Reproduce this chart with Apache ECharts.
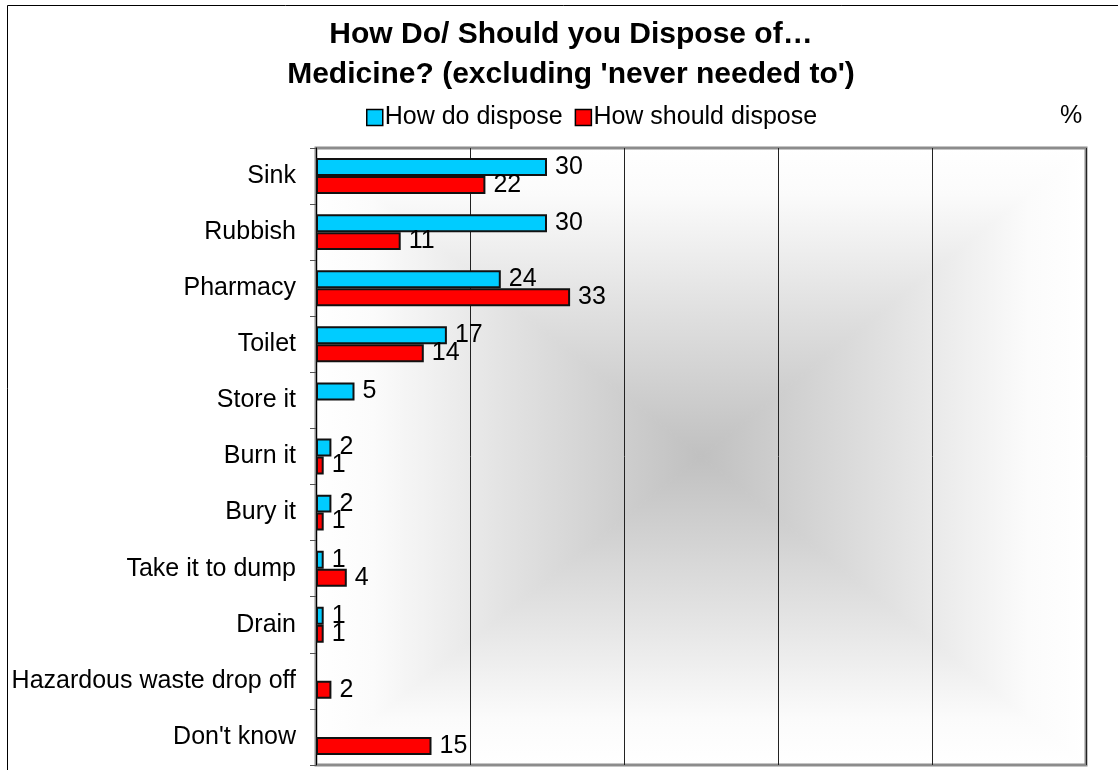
<!DOCTYPE html>
<html><head><meta charset="utf-8">
<script src="https://cdn.jsdelivr.net/npm/echarts@6/dist/echarts.min.js"></script>
<style>html,body{margin:0;padding:0;background:#fff}#c{width:1118px;height:770px}</style>
</head><body><div id="c"></div>
<script>
const categories = ["Sink","Rubbish","Pharmacy","Toilet","Store it","Burn it","Bury it","Take it to dump","Drain","Hazardous waste drop off","Don't know"];
const howDo = [30,30,24,17,5,2,2,1,1,null,null];
const howShould = [22,11,33,14,null,1,1,4,1,2,15];
const seriesNames = ["How do dispose","How should dispose"];
const titleText = "How Do/ Should you Dispose of…\nMedicine? (excluding 'never needed to')";

const FONT = "'Liberation Sans', Arial, sans-serif";
// plot-area layout (pixels)
const G = {left:316, top:148, right:1086, bottom:765};
const cx = (G.left + G.right) / 2, cy = (G.top + G.bottom) / 2;
const grad = (x, y, x2, y2) => ({type:'linear', x:x, y:y, x2:x2, y2:y2, colorStops:[
  {offset:0,color:'#ffffff'},{offset:0.15,color:'#fbfbfb'},{offset:0.5,color:'#e2e2e2'},{offset:1,color:'#c0c0c0'}]});
const bgTri = (pts, x, y, x2, y2) => ({type:'polygon', z:-1, silent:true,
  shape:{points:pts},
  style:{fill:grad(x,y,x2,y2), stroke:grad(x,y,x2,y2), lineWidth:1}});

const chart = echarts.init(document.getElementById('c'));
const labelCfg = {show:true, position:'right', distance:8, color:'#000', fontSize:25, fontFamily:FONT};
chart.setOption({
  animation:false,
  backgroundColor:'#fff',
  title:{text:titleText, left:566, textAlign:'center', top:10,
    textStyle:{fontFamily:FONT, fontSize:30, fontWeight:'bold', color:'#000', lineHeight:40}},
  legend:{left:361, top:100, itemWidth:16, itemHeight:16, itemGap:12, icon:'rect',
    itemStyle:{borderColor:'#000', borderWidth:1.5},
    textStyle:{fontFamily:FONT, fontSize:25, color:'#000', padding:[0,0,0,-3]},
    data:seriesNames},
  graphic:[
    {type:'rect', shape:{x:7.5,y:5.5,width:1300,height:1000}, style:{fill:null, stroke:'#000', lineWidth:1}, z:-10, silent:true},
    bgTri([[G.left,G.top],[G.right,G.top],[cx,cy]], 0,0,0,1),
    bgTri([[G.left,G.bottom],[G.right,G.bottom],[cx,cy]], 0,1,0,0),
    bgTri([[G.left,G.top],[G.left,G.bottom],[cx,cy]], 0,0,1,0),
    bgTri([[G.right,G.top],[G.right,G.bottom],[cx,cy]], 1,0,0,0),
    {type:'text', left:1060, top:104, style:{text:'%', fontFamily:FONT, fontSize:25, fill:'#000'}}
  ],
  grid:{left:G.left, right:1118-G.right, top:G.top, bottom:770-G.bottom, show:true, borderColor:'#8c8c8c', borderWidth:3,
    backgroundColor:'transparent'},
  xAxis:{type:'value', min:0, max:100, interval:20,
    axisLabel:{show:false}, axisTick:{show:false}, axisLine:{show:false},
    splitLine:{show:true, lineStyle:{color:'#222', width:1}}},
  yAxis:{type:'category', inverse:true, data:categories,
    axisLine:{show:true, lineStyle:{color:'#000', width:1}},
    axisTick:{show:true, length:6, lineStyle:{color:'#555'}},
    axisLabel:{fontFamily:FONT, fontSize:25, color:'#000', margin:20}},
  series:[
    {name:seriesNames[0], type:'bar', data:howDo, barCategoryGap:'36%', barGap:'0%',
      itemStyle:{color:'#00ccff', borderColor:'#111', borderWidth:2}, label:labelCfg},
    {name:seriesNames[1], type:'bar', data:howShould,
      itemStyle:{color:'#ff0000', borderColor:'#111', borderWidth:2}, label:labelCfg}
  ]
});
</script></body></html>
